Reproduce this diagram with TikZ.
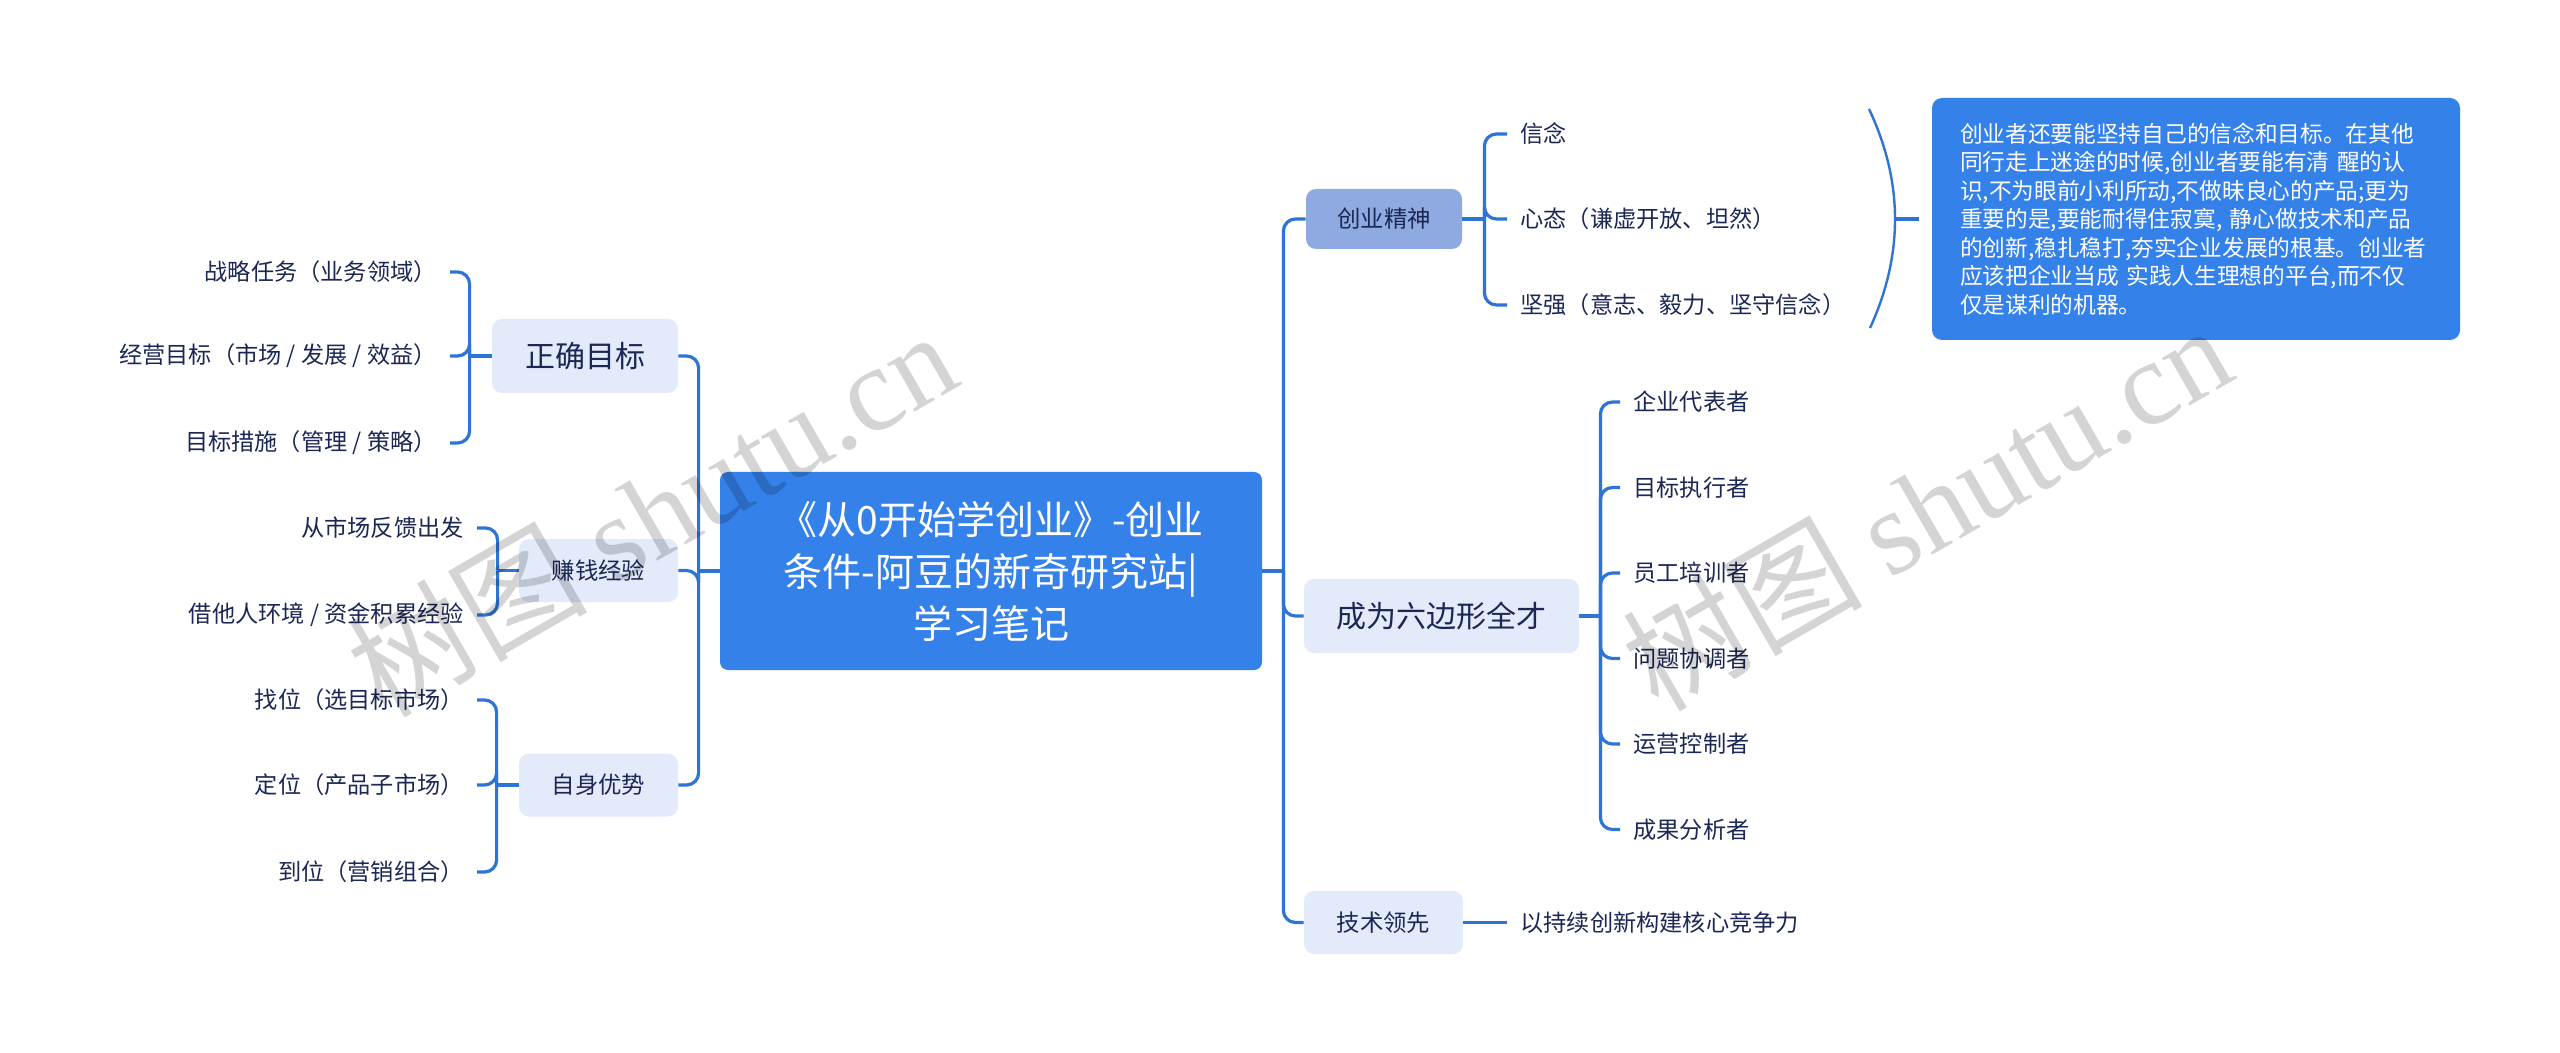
\documentclass[tikz,border=0pt]{standalone}
\usepackage{fontspec}
\setmainfont{Noto Sans CJK SC}
\newfontfamily\wmlatin{Liberation Serif}
\usetikzlibrary{calc}
\definecolor{conncol}{HTML}{2E74D6}
\definecolor{mainfill}{HTML}{3381E9}
\definecolor{lightfill}{HTML}{E3EBFB}
\definecolor{midfill}{HTML}{8EAAE0}
\definecolor{inkcol}{HTML}{1B2754}
\begin{document}
\begin{tikzpicture}[x=0.5pt,y=-0.5pt,
  conn/.style={draw=conncol,line width=1.6pt,rounded corners=6pt},
  sumline/.style={draw=conncol,line width=1.2pt},
  rootbox/.style={fill=mainfill,rounded corners=4pt,text=white,inner sep=0pt,
    minimum width=271pt,minimum height=99pt,align=center,
    font=\fontsize{19.5pt}{26pt}\selectfont},
  topicbig/.style={fill=lightfill,rounded corners=5pt,text=inkcol,inner sep=0pt,
    minimum height=37pt,font=\fontsize{15pt}{18pt}\selectfont},
  topic/.style={fill=lightfill,rounded corners=5pt,text=inkcol,inner sep=0pt,
    minimum width=79.5pt,minimum height=31.5pt,font=\fontsize{11.7pt}{14pt}\selectfont},
  topicmid/.style={topic,fill=midfill,minimum width=78pt,minimum height=30pt},
  leafL/.style={anchor=east,inner xsep=6.5pt,inner ysep=2pt,text=inkcol,
    font=\fontsize{11.6pt}{14pt}\selectfont},
  leafR/.style={leafL,anchor=west},
  notebox/.style={fill=mainfill,rounded corners=5pt,text=white,inner xsep=14pt,inner ysep=0pt,
    text width=236pt,minimum height=121pt,align=left,
    font=\fontsize{11.35pt}{14.25pt}\selectfont},
  wm/.style={text=black,text opacity=0.17,font=\fontsize{60pt}{60pt}\selectfont,inner sep=0pt}
]
\useasboundingbox[fill=white] (0,0) rectangle (2560,1053);

% root
\node[rootbox] (root) at (991,571) {《从0开始学创业》-创业\\条件-阿豆的新奇研究站|\\学习笔记};

% left topics
\node[topicbig,minimum width=93pt] (zq) at (585,356) {正确目标};
\node[topic] (zqjy) at (598.5,570.5) {赚钱经验};
\node[topic] (zsys) at (598.5,785) {自身优势};

% right topics
\node[topicmid] (cyjs) at (1384,219) {创业精神};
\node[topicbig,minimum width=137.5pt] (lbx) at (1441.5,616) {成为六边形全才};
\node[topic] (jsls) at (1383.5,922.5) {技术领先};

% junctions
\coordinate (jL) at ($(root.west)+(-21,0)$);
\coordinate (jR) at ($(root.east)+(21,0)$);
\draw[conn] (root.west) -- (jL);
\draw[conn] (root.east) -- (jR);
\draw[conn] (jL) |- (zq.east);
\draw[conn] (jL) |- (zqjy.east);
\draw[conn] (jL) |- (zsys.east);
\draw[conn] (jR) |- (cyjs.west);
\draw[conn] (jR) |- (lbx.west);
\draw[conn] (jR) |- (jsls.west);

% 正确目标 leaves
\node[leafL] (a1) at (450,272) {战略任务（业务领域）};
\node[leafL] (a2) at (450,356) {经营目标（市场 / 发展 / 效益）};
\node[leafL] (a3) at (450,443) {目标措施（管理 / 策略）};
\coordinate (jA) at ($(zq.west)+(-22,0)$);
\draw[conn] (zq.west) -- (jA);
\foreach \n in {a1,a2,a3} \draw[conn] (jA) |- (\n.east);

% 赚钱经验 leaves
\node[leafL] (b1) at (477,528) {从市场反馈出发};
\node[leafL] (b2) at (477,615) {借他人环境 / 资金积累经验};
\coordinate (jB) at ($(zqjy.west)+(-21,0)$);
\draw[conn] (zqjy.west) -- (jB);
\foreach \n in {b1,b2} \draw[conn] (jB) |- (\n.east);

% 自身优势 leaves
\node[leafL] (c1) at (477,700) {找位（选目标市场）};
\node[leafL] (c2) at (477,785) {定位（产品子市场）};
\node[leafL] (c3) at (477,872) {到位（营销组合）};
\coordinate (jC) at ($(zsys.west)+(-22,0)$);
\draw[conn] (zsys.west) -- (jC);
\foreach \n in {c1,c2,c3} \draw[conn] (jC) |- (\n.east);

% 创业精神 leaves
\node[leafR] (d1) at (1507,134) {信念};
\node[leafR] (d2) at (1507,219) {心态（谦虚开放、坦然）};
\node[leafR] (d3) at (1507,305) {坚强（意志、毅力、坚守信念）};
\coordinate (jD) at ($(cyjs.east)+(22,0)$);
\draw[conn] (cyjs.east) -- (jD);
\foreach \n in {d1,d2,d3} \draw[conn] (jD) |- (\n.west);

% summary bracket and note
\coordinate (sTop) at (1869,109);
\coordinate (sBot) at (1870,328);
\coordinate (sMid) at (1895,219);
\draw[sumline] (sTop) .. controls (1903.5,182) and (1903.5,255) .. (sBot);
\node[notebox] (note) at (2196,219) {创业者还要能坚持自己的信念和目标。在其他\\同行走上迷途的时候,创业者要能有清 醒的认\\识,不为眼前小利所动,不做昧良心的产品;更为\\重要的是,要能耐得住寂寞, 静心做技术和产品\\的创新,稳扎稳打,夯实企业发展的根基。创业者\\应该把企业当成 实践人生理想的平台,而不仅\\仅是谋利的机器。};
\draw[sumline,line width=1.6pt,shorten >=6.5pt] (sMid) -- (note.west);

% 成为六边形全才 leaves
\node[leafR] (e1) at (1620,402) {企业代表者};
\node[leafR] (e2) at (1620,487.5) {目标执行者};
\node[leafR] (e3) at (1620,573) {员工培训者};
\node[leafR] (e4) at (1620,658.5) {问题协调者};
\node[leafR] (e5) at (1620,744) {运营控制者};
\node[leafR] (e6) at (1620,829.5) {成果分析者};
\coordinate (jE) at ($(lbx.east)+(21,0)$);
\draw[conn] (lbx.east) -- (jE);
\foreach \n in {e1,e2,e3,e4,e5,e6} \draw[conn] (jE) |- (\n.west);

% 技术领先 leaf
\node[leafR] (f1) at (1507,922.5) {以持续创新构建核心竞争力};
\draw[conn] (jsls.east) -- (f1.west);

% watermarks
\node[wm,rotate=30] (wm1) at (651,512) {树图 {\wmlatin shutu.cn}};
\node[wm,rotate=30] (wm2) at (1926,506) {树图 {\wmlatin shutu.cn}};
\end{tikzpicture}
\end{document}
